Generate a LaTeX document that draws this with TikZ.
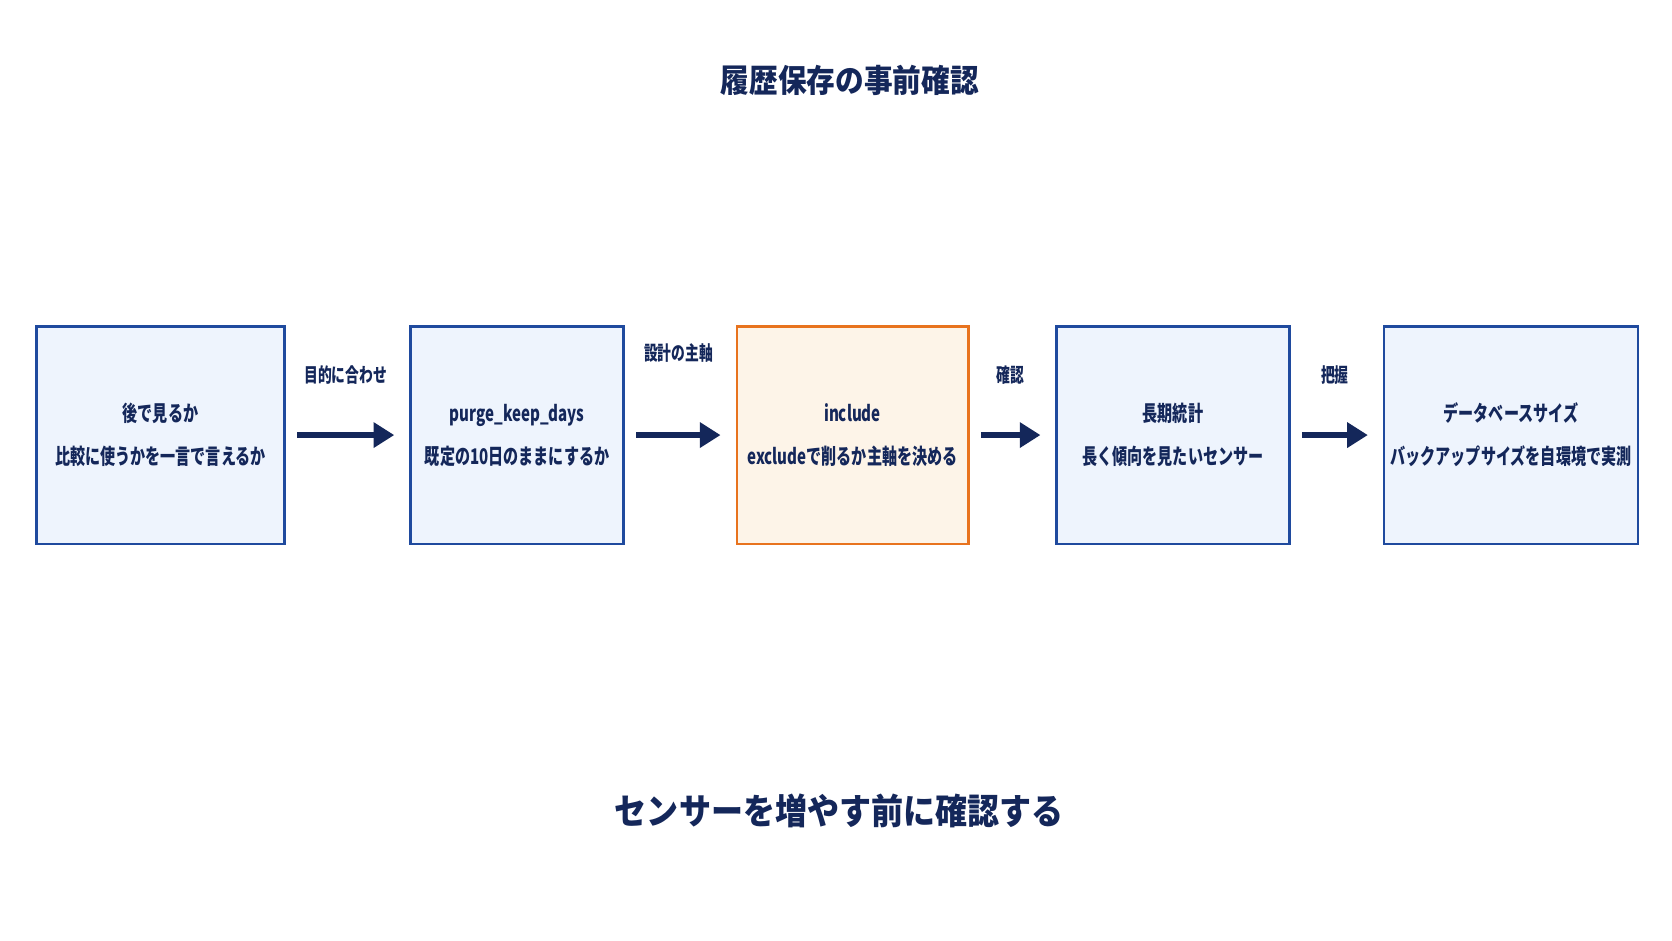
\documentclass[tikz,border=0pt]{standalone}
\usepackage{fontspec}
\setmainfont{Noto Sans CJK JP}[FakeStretch=0.7]
\newfontfamily\headfont{Noto Sans CJK JP}[FakeStretch=0.9]
\usetikzlibrary{arrows.meta}
\definecolor{navy}{HTML}{14275A}
\definecolor{boxline}{HTML}{1F4A9E}
\definecolor{boxfill}{HTML}{EEF4FD}
\definecolor{hiline}{HTML}{E8731E}
\definecolor{hifill}{HTML}{FDF4E8}
\tikzset{>=stealth}
\tikzset{
  stage/.style={draw=boxline, fill=boxfill, line width=1.4pt, align=center,
    font=\fontsize{11.5pt}{23pt}\selectfont\bfseries, text=navy, inner sep=0pt},
  focus/.style={stage, draw=hiline, fill=hifill},
  flow/.style={-{Triangle[length=11pt,width=13pt]}, line width=3.2pt, draw=navy},
  tag/.style={font=\fontsize{10.5pt}{12pt}\selectfont\bfseries, text=navy},
}

\begin{document}
\begin{tikzpicture}[x=0.02cm, y=-0.02cm]
\useasboundingbox[fill=white] (0,0) rectangle (1568,882);
\node[font=\headfont\fontsize{17pt}{20pt}\selectfont\bfseries, text=navy] (title) at (797,75) {履歴保存の事前確認};
\node[stage, minimum width=233*0.02cm, minimum height=204*0.02cm] (look) at (150.5,408) {後で見るか\\比較に使うかを一言で言えるか};
\node[stage, minimum width=200*0.02cm, minimum height=204*0.02cm] (purge) at (485,408) {purge\_keep\_days\\既定の10日のままにするか};
\node[focus, minimum width=217*0.02cm, minimum height=204*0.02cm] (incl) at (799.5,408) {include\\excludeで削るか主軸を決める};
\node[stage, minimum width=218*0.02cm, minimum height=204*0.02cm] (stats) at (1100,408) {長期統計\\長く傾向を見たいセンサー};
\node[stage, minimum width=238*0.02cm, minimum height=204*0.02cm] (dbsize) at (1417,408) {データベースサイズ\\バックアップサイズを自環境で実測};
\draw[flow] ([xshift=6pt]look.east) -- ([xshift=-8pt]purge.west) node[tag, midway, above=22pt] {目的に合わせ};
\draw[flow] ([xshift=6pt]purge.east) -- ([xshift=-8pt]incl.west) node[tag, midway, above=34pt] {設計の主軸};
\draw[flow] ([xshift=6pt]incl.east) -- ([xshift=-8pt]stats.west) node[tag, midway, above=22pt] {確認};
\draw[flow] ([xshift=6pt]stats.east) -- ([xshift=-8pt]dbsize.west) node[tag, midway, above=22pt] {把握};
\node[font=\headfont\fontsize{19pt}{22pt}\selectfont\bfseries, text=navy] (note) at (787,760) {センサーを増やす前に確認する};
\end{tikzpicture}
\end{document}
